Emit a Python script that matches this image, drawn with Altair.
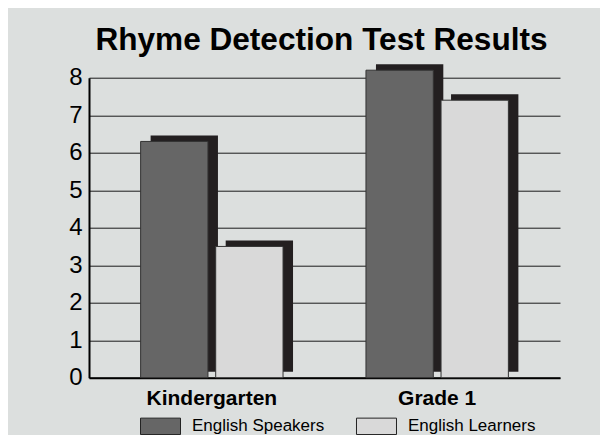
import altair as alt
import pandas as pd

grades = ["Kindergarten", "Grade 1"]
groups = ["English Speakers", "English Learners"]
speakers = [6.3, 8.2]
learners = [3.5, 7.4]
y_ticks = [0, 1, 2, 3, 4, 5, 6, 7, 8]

rows = []
for g, s, l in zip(grades, speakers, learners):
    rows.append({"grade": g, "group": groups[0], "value": s})
    rows.append({"grade": g, "group": groups[1], "value": l})
df = pd.DataFrame(rows)

FONT = "Liberation Sans"
SHADOW_DX = 10  # drop-shadow shift in pixels

x_enc = alt.X(
    "grade:N",
    sort=grades,
    title=None,
    scale=alt.Scale(paddingInner=0.368, paddingOuter=0.229),
    axis=alt.Axis(
        labelAngle=0,
        labelFont=FONT,
        labelFontSize=21,
        labelFontWeight="bold",
        labelColor="#000000",
        labelPadding=10,
        ticks=False,
        domainColor="#000000",
        domainWidth=2,
        grid=False,
    ),
)
y_enc = alt.Y(
    "value:Q",
    title=None,
    scale=alt.Scale(domain=[0, 8], nice=False, zero=True),
    axis=alt.Axis(
        values=y_ticks,
        labelFont=FONT,
        labelFontSize=24,
        labelColor="#000000",
        labelPadding=7,
        ticks=False,
        domainColor="#000000",
        domainWidth=2,
        grid=True,
        gridColor="#1a1a1a",
        gridWidth=1,
    ),
)

# group band width = step * (1 - paddingInner) of the x scale
_step = 471 / (2 - 0.368 + 2 * 0.229)
_band = _step * (1 - 0.368)

shadow = alt.Chart(df).mark_bar(
    color="#231f20", yOffset=-6, y2Offset=-6
).encode(
    x=x_enc,
    xOffset=alt.XOffset(
        "group:N",
        sort=groups,
        scale=alt.Scale(paddingInner=0.103, range=[SHADOW_DX, _band + SHADOW_DX]),
    ),
    y=y_enc,
)

front = alt.Chart(df).mark_bar(stroke="#333333", strokeWidth=1).encode(
    x=x_enc,
    xOffset=alt.XOffset("group:N", sort=groups, scale=alt.Scale(paddingInner=0.103)),
    y=y_enc,
    color=alt.Color(
        "group:N",
        sort=groups,
        scale=alt.Scale(domain=groups, range=["#666666", "#d9d9d9"]),
        legend=alt.Legend(
            title=None,
            orient="none",
            direction="horizontal",
            legendX=51,
            legendY=328,
            padding=0,
            symbolType="M-1,-0.41L1,-0.41L1,0.41L-1,0.41Z",
            symbolSize=1600,
            symbolStrokeColor="#222222",
            symbolStrokeWidth=1,
            labelFont=FONT,
            labelFontSize=17,
            labelColor="#000000",
            labelOffset=11,
            columnPadding=29,
        ),
    ),
)

chart = (
    alt.layer(shadow, front)
    .resolve_scale(xOffset="independent")
    .properties(
        width=471,
        height=300,
        title=alt.TitleParams(
            "Rhyme Detection Test Results",
            font=FONT,
            fontSize=31.6,
            fontWeight="bold",
            color="#000000",
            anchor="middle",
            offset=8,
            dx=-3,
        ),
        autosize=alt.AutoSizeParams(type="none"),
        padding={"left": 81, "top": 69.7, "right": 40, "bottom": 57},
        background="#dcdfde",
    )
    .configure_view(stroke=None, fill="#dcdfde")
)

chart.save("out.html", embed_options={"renderer": "svg", "actions": False})
